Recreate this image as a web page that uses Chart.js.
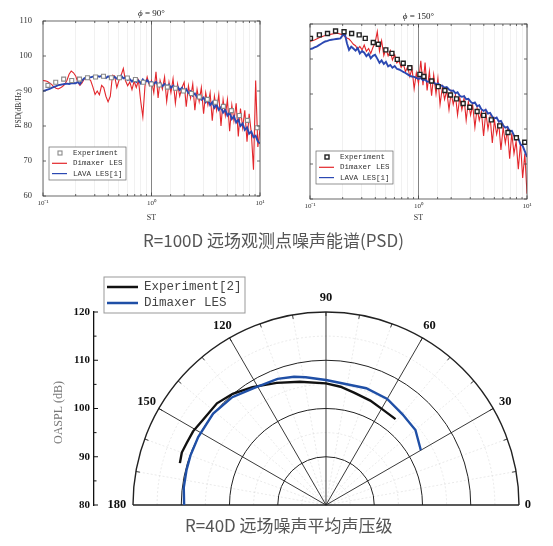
<!DOCTYPE html>
<html>
<head>
<meta charset="utf-8">
<script src="https://cdn.jsdelivr.net/npm/chart.js@4.4.0/dist/chart.umd.min.js"></script>
<style>
  body { margin: 0; background: #fff; width: 553px; height: 546px; position: relative; overflow: hidden; }
  canvas { position: absolute; }
  .cap { position: absolute; font-family: "Noto Sans CJK SC"; color: #555; font-size: 17px; line-height: 20px; white-space: nowrap; }
</style>
</head>
<body>
<canvas id="psd90" width="276" height="230" style="left:0;top:0;width:276px;height:230px"></canvas>
<canvas id="psd150" width="277" height="230" style="left:276px;top:0;width:277px;height:230px"></canvas>
<div class="cap" style="left:143px;top:230px">R=100D 远场观测点噪声能谱(PSD)</div>
<canvas id="oaspl" width="553" height="255" style="left:0;top:265px;width:553px;height:255px"></canvas>
<div class="cap" style="left:185px;top:515px">R=40D 远场噪声平均声压级</div>
<script>
// Strouhal number grid shared by the LES spectra
const stGrid = [0.100,0.105,0.110,0.115,0.120,0.126,0.132,0.138,0.145,0.151,
  0.158,0.166,0.174,0.182,0.191,0.200,0.209,0.219,0.229,0.240,
  0.251,0.263,0.275,0.288,0.302,0.316,0.331,0.347,0.363,0.380,
  0.398,0.417,0.437,0.457,0.479,0.501,0.525,0.550,0.575,0.603,
  0.631,0.661,0.692,0.724,0.759,0.794,0.832,0.871,0.912,0.955,
  1.00,1.05,1.10,1.15,1.20,1.26,1.32,1.38,1.45,1.51,
  1.58,1.66,1.74,1.82,1.91,2.00,2.09,2.19,2.29,2.40,
  2.51,2.63,2.75,2.88,3.02,3.16,3.31,3.47,3.63,3.80,
  3.98,4.17,4.37,4.57,4.79,5.01,5.25,5.50,5.75,6.03,
  6.31,6.61,6.92,7.24,7.59,7.94,8.32,8.71,9.12,9.55,10.0];

// phi = 90 deg
const red90 = [93.0,92.9,92.7,92.3,91.9,91.2,90.8,90.6,90.9,91.3,
  91.8,93.0,94.8,95.7,95.2,94.3,92.5,91.6,92.3,93.4,
  93.8,93.6,93.0,91.2,89.0,90.0,88.9,91.6,91.0,88.5,
  86.9,88.5,94.5,94.3,91.0,93.0,94.5,96.4,93.0,91.5,
  92.6,90.4,92.8,91.0,93.0,87.3,82.6,91.5,94.0,91.6,
  93.0,89.5,95.5,88.0,93.0,90.5,94.0,87.0,92.5,89.5,
  93.5,86.5,92.0,88.5,91.0,92.5,85.5,91.5,88.0,92.0,
  84.5,90.5,87.0,91.0,83.5,89.5,86.0,89.5,81.5,88.5,
  84.5,89.0,80.0,87.5,83.0,87.5,78.5,86.0,81.5,86.5,
  77.0,85.0,79.5,84.5,75.5,83.5,78.0,67.5,93.0,74.0,79.0];
const blue90 = [90.0,90.2,90.4,90.6,90.9,91.2,91.4,91.7,91.8,91.9,
  92.0,92.1,92.0,92.2,92.3,92.2,92.6,92.0,93.0,93.6,
  93.9,94.0,93.9,94.1,94.2,94.3,94.1,94.3,94.0,93.7,
  94.2,93.8,93.6,94.0,93.5,93.8,94.4,93.6,93.9,93.2,
  93.4,92.7,93.3,92.6,93.0,92.2,93.3,92.5,93.1,92.3,
  92.6,92.0,92.6,91.7,92.2,91.4,92.0,91.3,91.8,90.9,
  91.5,90.6,91.2,90.3,90.9,89.8,90.5,89.4,89.9,88.7,
  89.3,88.2,88.8,87.5,88.1,86.8,87.6,86.0,86.8,85.2,
  86.1,84.6,85.4,83.8,84.6,83.0,83.8,82.0,82.8,81.0,
  81.8,80.0,80.7,78.9,79.6,77.8,78.4,76.8,77.2,75.6,75.0];
const exp90St = [0.111,0.131,0.155,0.184,0.217,0.257,0.305,0.361,0.427,0.506,
  0.600,0.711,0.842,0.998,1.18,1.40,1.66,1.97,2.33,2.76,
  3.27,3.88,4.60,5.45,6.45,7.65,9.40];
const exp90Psd = [91.6,92.5,93.4,93.0,93.4,93.8,94.0,94.2,93.8,93.8,
  93.7,93.3,92.5,92.0,91.7,91.1,90.8,90.0,89.3,88.3,
  87.6,86.8,85.6,84.4,83.0,81.6,79.5];

// phi = 150 deg
const red150 = [105.0,105.2,105.4,105.7,106.0,106.3,106.5,106.7,106.8,107.0,
  107.1,107.2,107.3,107.3,107.1,106.9,106.4,106.0,105.7,105.0,
  104.2,103.8,102.8,103.6,102.6,104.0,102.2,103.0,101.6,103.3,
  104.6,107.8,102.2,105.2,101.0,103.0,100.9,102.4,99.7,101.2,
  98.9,99.5,97.6,98.6,96.4,97.8,95.0,97.3,91.5,96.0,
  93.0,99.5,92.5,99.0,91.0,96.5,89.5,95.5,90.0,94.5,
  87.0,92.0,88.5,91.0,85.5,90.5,87.0,89.8,84.0,89.0,
  85.5,88.8,82.5,87.8,84.0,86.8,80.5,86.0,82.5,85.0,
  78.0,84.8,80.0,83.5,76.0,82.5,78.5,81.5,74.0,80.5,
  76.0,79.8,71.5,78.8,73.0,76.5,68.5,76.0,66.0,73.0,61.5];
const blue150 = [102.8,103.0,103.3,103.5,103.9,104.3,104.7,105.0,105.2,105.4,
  105.5,105.6,105.7,105.8,105.9,106.8,107.3,104.5,102.6,103.5,
  103.0,102.4,103.1,101.6,102.3,101.8,100.8,101.5,100.2,100.9,
  101.2,100.1,98.9,99.6,98.6,99.2,97.9,98.3,97.5,98.0,
  97.2,97.0,96.7,96.3,96.0,95.6,95.2,95.0,94.9,94.6,
  94.3,94.6,93.9,94.2,93.5,93.6,93.2,93.4,92.7,93.0,
  92.5,92.3,91.8,92.0,91.3,90.9,91.0,90.2,90.5,89.5,
  89.2,89.4,88.5,88.6,87.8,87.3,87.6,86.5,86.8,85.6,
  85.2,85.5,84.4,84.6,83.5,83.0,83.3,82.1,82.3,81.0,
  80.4,80.6,79.4,79.5,78.2,77.0,77.3,75.6,75.2,73.6,72.0];
const exp150St = [0.101,0.122,0.145,0.172,0.206,0.242,0.284,0.323,0.383,0.426,
  0.500,0.569,0.637,0.723,0.832,1.03,1.12,1.32,1.52,1.75,
  1.97,2.24,2.58,2.97,3.47,3.99,4.69,5.60,6.68,7.98,9.53];
const exp150Psd = [105.9,106.9,107.3,108.0,107.8,107.3,106.9,105.9,104.7,104.2,
  102.6,101.6,99.9,98.8,97.5,95.6,95.0,93.7,92.1,91.0,
  89.7,88.6,87.3,86.2,85.0,83.9,82.6,80.9,79.0,77.5,76.2];

// R = 40D OASPL directivity (angle in deg, level in dB)
const expAngle = [164,160,156,151,145,137,130,122,112,102,90,83,76,67,59,51];
const expLevel = [111.5,111.8,111.6,111.5,111.0,110.9,110.1,108.8,107.3,106.1,105.2,104.7,104.0,103.5,103.0,102.9];
const lesAngle = [180,173,166,160,152,141,131,122,111,104,99,90,71,60,50,40,30];
const lesLevel = [109.4,109.7,109.8,109.9,110.0,110.1,109.6,108.5,108.0,107.4,106.8,105.9,105.6,105.4,104.6,104.2,102.7];

const ringLevels = [90, 100, 110, 120];
const minorRings = [85, 95, 105, 115];
const spokeAngles = [30, 60, 90, 120, 150];
const angleLabels = [0, 30, 60, 90, 120, 150, 180];

const RED = '#e3262b', BLUE = '#2b48b2';

function pairs(xs, ys) {
  return xs.map((x, i) => ({x: x, y: ys[i]}));
}

function polar(angles, levels) {
  return angles.map((a, i) => {
    const r = levels[i] - 80, t = a * Math.PI / 180;
    return {x: r * Math.cos(t), y: 80 + r * Math.sin(t)};
  });
}

function decadeLabel(v) {
  const e = Math.log10(v);
  if (Math.abs(e - Math.round(e)) > 1e-6) return '';
  return '10' + {'-1': '⁻¹', '0': '⁰', '1': '¹'}[Math.round(e)];
}

// frame, inner ticks, panel title and boxed legend for the PSD panels
const psdFrame = {
  id: 'psdFrame',
  afterDatasetsDraw(chart, args, o) {
    const {ctx, chartArea: a, scales: {x, y}} = chart;
    ctx.save();
    ctx.strokeStyle = '#444';
    ctx.lineWidth = 0.8;
    ctx.beginPath();
    y.ticks.forEach(t => {
      const py = y.getPixelForValue(t.value);
      ctx.moveTo(a.left, py); ctx.lineTo(a.left + 3, py);
      ctx.moveTo(a.right, py); ctx.lineTo(a.right - 3, py);
    });
    x.ticks.forEach(t => {
      const px = x.getPixelForValue(t.value);
      const len = decadeLabel(t.value) ? 3.5 : 2;
      ctx.moveTo(px, a.bottom); ctx.lineTo(px, a.bottom - len);
      ctx.moveTo(px, a.top); ctx.lineTo(px, a.top + len);
    });
    ctx.stroke();
    ctx.strokeRect(a.left, a.top, a.right - a.left, a.bottom - a.top);

    // title
    ctx.fillStyle = '#222';
    ctx.textBaseline = 'alphabetic';
    ctx.font = 'italic 9px "Liberation Serif"';
    const rest = ' = ' + o.angle + '°';
    const w1 = ctx.measureText('ϕ').width;
    ctx.font = '9px "Liberation Serif"';
    const w2 = ctx.measureText(rest).width;
    const tx = (a.left + a.right) / 2 - (w1 + w2) / 2;
    ctx.textAlign = 'left';
    ctx.font = 'italic 9px "Liberation Serif"';
    ctx.fillText('ϕ', tx, a.top - 5);
    ctx.font = '9px "Liberation Serif"';
    ctx.fillText(rest, tx + w1, a.top - 5);

    // legend
    const bx = a.left + o.lx, by = a.top + o.ly;
    ctx.fillStyle = '#fff';
    ctx.fillRect(bx, by, o.lw, 33);
    ctx.strokeStyle = '#666';
    ctx.lineWidth = 0.7;
    ctx.strokeRect(bx, by, o.lw, 33);
    ctx.font = '7.5px "Liberation Mono"';
    ctx.textBaseline = 'middle';
    chart.data.datasets.forEach((ds, i) => {
      const ry = by + 6 + i * 10.3;
      if (ds.showLine) {
        ctx.strokeStyle = ds.borderColor;
        ctx.lineWidth = 1.2;
        ctx.beginPath(); ctx.moveTo(bx + 3, ry); ctx.lineTo(bx + 18, ry); ctx.stroke();
      } else {
        ctx.strokeStyle = ds.pointBorderColor;
        ctx.lineWidth = ds.pointBorderWidth;
        ctx.strokeRect(bx + 9, ry - 2, 4, 4);
      }
      ctx.fillStyle = '#333';
      ctx.fillText(ds.label, bx + 24, ry);
    });
    ctx.restore();
  }
};

function psdChart(id, cfg) {
  return new Chart(document.getElementById(id), {
    type: 'scatter',
    data: {
      datasets: [
        {
          label: 'Experiment',
          data: pairs(cfg.expSt, cfg.expPsd),
          showLine: false,
          pointStyle: 'rect',
          pointRadius: 2.8,
          pointBackgroundColor: '#fff',
          pointBorderColor: cfg.expColor,
          pointBorderWidth: cfg.expWidth,
          order: 0
        },
        {
          label: 'Dimaxer LES',
          data: pairs(stGrid, cfg.red),
          showLine: true,
          borderColor: RED,
          borderWidth: 1.1,
          pointRadius: 0,
          order: 2
        },
        {
          label: 'LAVA LES[1]',
          data: pairs(stGrid, cfg.blue),
          showLine: true,
          borderColor: BLUE,
          borderWidth: 1.9,
          pointRadius: 0,
          order: 1
        }
      ]
    },
    options: {
      responsive: false,
      animation: false,
      events: [],
      layout: { padding: { top: cfg.top, right: cfg.right, left: 0, bottom: 0 } },
      plugins: {
        legend: { display: false },
        tooltip: { enabled: false },
        psdFrame: { angle: cfg.angle, lx: 6, ly: cfg.ly, lw: 77 }
      },
      scales: {
        x: {
          type: 'logarithmic',
          min: 0.1,
          max: 10,
          afterFit: s => { s.height = cfg.xh; },
          border: { display: false },
          grid: {
            drawTicks: false,
            color: c => (c.tick && Math.abs(c.tick.value - 1) < 1e-9) ? '#777' : '#e8e8e8',
            lineWidth: c => (c.tick && Math.abs(c.tick.value - 1) < 1e-9) ? 0.9 : 0.6
          },
          ticks: {
            autoSkip: false,
            maxRotation: 0,
            padding: 3,
            color: '#333',
            font: { family: 'Liberation Serif', size: 7 },
            callback: v => decadeLabel(v)
          },
          title: {
            display: true,
            text: 'ST',
            color: '#333',
            font: { family: 'Liberation Serif', size: 8 },
            padding: { top: 0, bottom: 7 }
          }
        },
        y: {
          min: 60,
          max: 110,
          afterFit: s => { s.width = cfg.left; },
          border: { display: false },
          grid: { display: false },
          ticks: {
            display: cfg.yLabels,
            stepSize: 10,
            padding: 3,
            color: '#333',
            font: { family: 'Liberation Serif', size: 8.5 }
          },
          title: {
            display: cfg.yLabels,
            text: 'PSD(dB/Hz)',
            color: '#333',
            font: { family: 'Liberation Serif', size: 7.5 },
            padding: { top: 15, bottom: 0 }
          }
        }
      }
    },
    plugins: [psdFrame]
  });
}

psdChart('psd90', {
  angle: 90, red: red90, blue: blue90, expSt: exp90St, expPsd: exp90Psd,
  expColor: '#8a8a8a', expWidth: 1.1, top: 21, right: 16, left: 43, xh: 34, ly: 126, yLabels: true
});
psdChart('psd150', {
  angle: 150, red: red150, blue: blue150, expSt: exp150St, expPsd: exp150Psd,
  expColor: '#222', expWidth: 1.4, top: 24, right: 26, left: 34, xh: 31, ly: 127, yLabels: false
});

// half-polar grid, angle labels, legend and axis extras for the OASPL panel
const polarGrid = {
  id: 'polarGrid',
  beforeDatasetsDraw(chart) {
    const {ctx, scales: {x, y}} = chart;
    const cx = x.getPixelForValue(0), cy = y.getPixelForValue(80);
    const rad = v => cy - y.getPixelForValue(v);
    const R = rad(120);
    ctx.save();
    ctx.strokeStyle = '#dcdcdc';
    ctx.lineWidth = 0.6;
    ctx.setLineDash([2, 2]);
    minorRings.forEach(v => {
      ctx.beginPath(); ctx.arc(cx, cy, rad(v), Math.PI, 2 * Math.PI); ctx.stroke();
    });
    for (let a = 10; a < 180; a += 10) {
      if (spokeAngles.includes(a)) continue;
      const t = a * Math.PI / 180;
      ctx.beginPath(); ctx.moveTo(cx, cy); ctx.lineTo(cx + R * Math.cos(t), cy - R * Math.sin(t)); ctx.stroke();
    }
    ctx.setLineDash([]);
    ctx.strokeStyle = '#222';
    ringLevels.forEach(v => {
      ctx.lineWidth = v === 120 ? 1.4 : 1;
      ctx.beginPath(); ctx.arc(cx, cy, rad(v), Math.PI, 2 * Math.PI); ctx.stroke();
    });
    ctx.lineWidth = 0.9;
    ctx.beginPath();
    spokeAngles.forEach(a => {
      const t = a * Math.PI / 180;
      ctx.moveTo(cx, cy); ctx.lineTo(cx + R * Math.cos(t), cy - R * Math.sin(t));
    });
    for (let a = 10; a < 180; a += 10) {
      const t = a * Math.PI / 180;
      ctx.moveTo(cx + R * Math.cos(t), cy - R * Math.sin(t));
      ctx.lineTo(cx + (R - 4) * Math.cos(t), cy - (R - 4) * Math.sin(t));
    }
    ctx.stroke();
    ctx.lineWidth = 1.4;
    ctx.beginPath(); ctx.moveTo(cx - R, cy); ctx.lineTo(cx + R, cy); ctx.stroke();
    ctx.restore();
  },
  afterDatasetsDraw(chart) {
    const {ctx, chartArea: area, scales: {x, y}} = chart;
    const cx = x.getPixelForValue(0), cy = y.getPixelForValue(80);
    const R = cy - y.getPixelForValue(120);
    ctx.save();
    // angle labels
    ctx.fillStyle = '#111';
    ctx.font = 'bold 12.5px "Liberation Serif"';
    ctx.textAlign = 'center';
    ctx.textBaseline = 'middle';
    angleLabels.forEach(a => {
      const t = a * Math.PI / 180;
      const off = a === 0 ? 9 : (a === 180 ? 16 : 14);
      ctx.fillText(String(a), cx + (R + off) * Math.cos(t), cy - (R + off) * Math.sin(t));
    });
    // axis ticks pointing into the plot
    ctx.strokeStyle = '#111';
    ctx.lineWidth = 1;
    ctx.beginPath();
    for (let v = 80; v <= 120; v += 5) {
      const py = y.getPixelForValue(v);
      ctx.moveTo(area.left, py); ctx.lineTo(area.left + (v % 10 === 0 ? 4 : 2.5), py);
    }
    ctx.stroke();
    // axis title
    ctx.save();
    ctx.translate(59, (y.getPixelForValue(80) + y.getPixelForValue(120)) / 2 + 4);
    ctx.rotate(-Math.PI / 2);
    ctx.fillStyle = '#777';
    ctx.font = '12px "Liberation Serif"';
    ctx.fillText('OASPL (dB)', 0, 0);
    ctx.restore();
    // legend
    const bx = 104, by = 12;
    ctx.strokeStyle = '#999';
    ctx.lineWidth = 1;
    ctx.fillStyle = '#fff';
    ctx.fillRect(bx, by, 141, 36);
    ctx.strokeRect(bx, by, 141, 36);
    ctx.font = '12.5px "Liberation Mono"';
    ctx.textAlign = 'left';
    chart.data.datasets.forEach((ds, i) => {
      const ry = by + 10 + i * 16;
      ctx.strokeStyle = ds.borderColor;
      ctx.lineWidth = 2.5;
      ctx.beginPath(); ctx.moveTo(bx + 3, ry); ctx.lineTo(bx + 34, ry); ctx.stroke();
      ctx.fillStyle = '#444';
      ctx.fillText(ds.label, bx + 40, ry);
    });
    ctx.restore();
  }
};

new Chart(document.getElementById('oaspl'), {
  type: 'scatter',
  data: {
    datasets: [
      {
        label: 'Experiment[2]',
        data: polar(expAngle, expLevel),
        showLine: true,
        borderColor: '#111',
        borderWidth: 2.4,
        pointRadius: 0,
        order: 1
      },
      {
        label: 'Dimaxer LES',
        data: polar(lesAngle, lesLevel),
        showLine: true,
        borderColor: '#1f4fa6',
        borderWidth: 2.4,
        pointRadius: 0,
        order: 0
      }
    ]
  },
  options: {
    responsive: false,
    animation: false,
    events: [],
    layout: { padding: { top: 47, right: 23, bottom: 15, left: 0 } },
    plugins: { legend: { display: false }, tooltip: { enabled: false } },
    scales: {
      x: { type: 'linear', display: false, min: -48.08, max: 42.28 },
      y: {
        min: 80,
        max: 120,
        afterFit: s => { s.width = 94; },
        grid: { display: false, drawTicks: false },
        border: { display: true, color: '#111', width: 1.3 },
        ticks: {
          stepSize: 10,
          padding: 4,
          color: '#111',
          font: { family: 'Liberation Serif', size: 11, weight: 'bold' }
        }
      }
    }
  },
  plugins: [polarGrid]
});
</script>
</body>
</html>
